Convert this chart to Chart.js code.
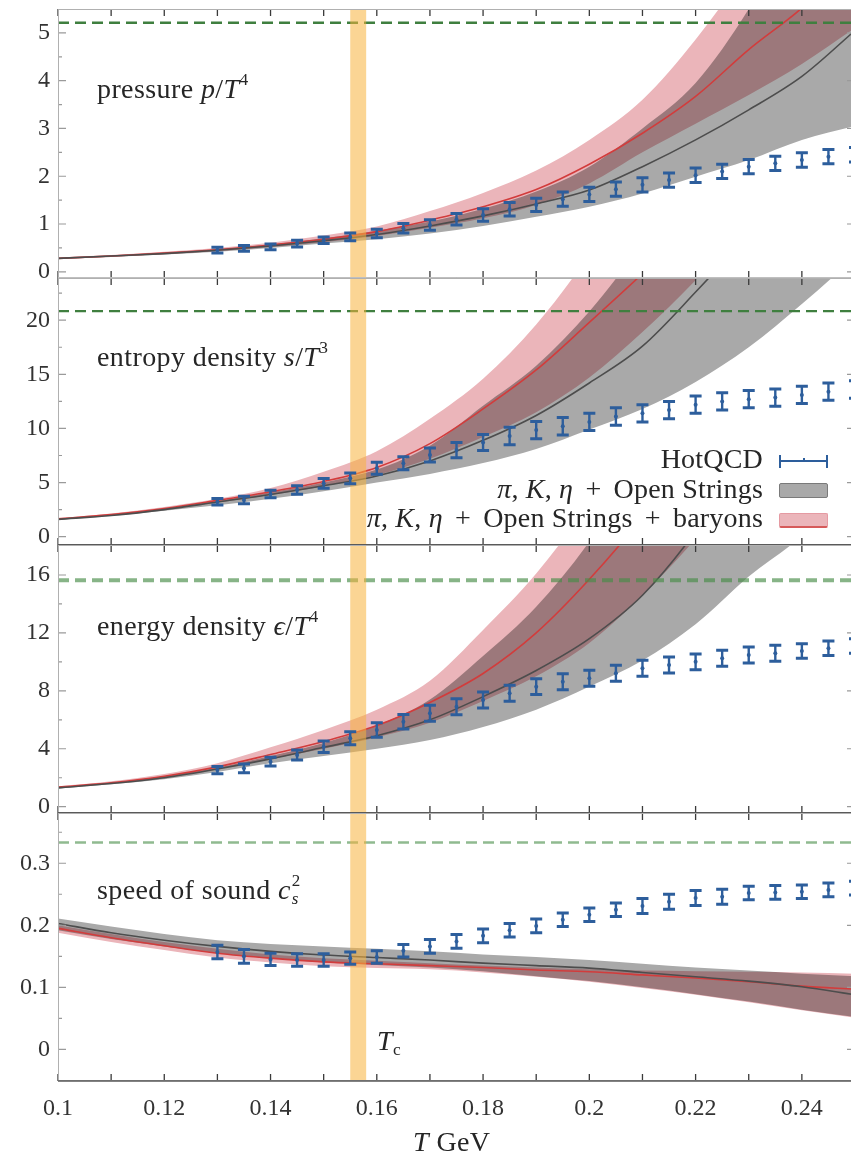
<!DOCTYPE html>
<html>
<head>
<meta charset="utf-8">
<script src="https://cdn.jsdelivr.net/npm/chart.js@4.4.0/dist/chart.umd.min.js"></script>
<style>
  html, body { margin: 0; padding: 0; background: #fff; }
  body { position: relative; width: 851px; height: 1151px; overflow: hidden;
         font-family: 'Liberation Serif', 'DejaVu Serif', serif; color: #262626; }
  canvas { position: absolute; left: 0; }
  .lbl { position: absolute; font-size: 28px; line-height: 1; white-space: nowrap; letter-spacing: 0.4px; }
  .lbl sup { font-size: 0.62em; vertical-align: 0.75em; line-height: 0; }
  .lbl sub { font-size: 0.62em; vertical-align: -0.3em; line-height: 0; }
  .leg { position: absolute; right: 88px; font-size: 28px; line-height: 1; white-space: nowrap; text-align: right; letter-spacing: 0.2px; }
  .leg .op { margin: 0 5px; }
  .sym { position: absolute; left: 779px; width: 49px; box-sizing: border-box; }
</style>
</head>
<body>
<canvas id="pressure" width="860" height="294" style="top:0px"></canvas>
<canvas id="entropy" width="860" height="283" style="top:278px"></canvas>
<canvas id="energy" width="860" height="284" style="top:545px"></canvas>
<canvas id="sound" width="860" height="338" style="top:813px"></canvas>

<div class="lbl" style="left:97px;top:75px">pressure <i>p</i>/<i>T</i><sup>4</sup></div>
<div class="lbl" style="left:97px;top:343px">entropy density <i>s</i>/<i>T</i><sup>3</sup></div>
<div class="lbl" style="left:97px;top:612px">energy density <i>ϵ</i>/<i>T</i><sup>4</sup></div>
<div class="lbl" style="left:97px;top:876px">speed of sound <i>c</i><span style="display:inline-block;position:relative;width:0.45em;height:0"><span style="position:absolute;left:1px;top:-27px;font-size:17px">2</span><span style="position:absolute;left:1px;top:-9px;font-size:17px;font-style:italic">s</span></span></div>

<div class="leg" style="top:445px">HotQCD</div>
<div class="leg" style="top:475px"><i>π</i>, <i>K</i>, <i>η</i> <span class="op">+</span> Open Strings</div>
<div class="leg" style="top:504px"><i>π</i>, <i>K</i>, <i>η</i> <span class="op">+</span> Open Strings <span class="op">+</span> baryons</div>
<div class="sym" style="top:455px;height:13px;border-left:2px solid #2d5e9c;border-right:2px solid #2d5e9c">
  <div style="position:absolute;left:0;right:0;top:5px;height:2px;background:#2d5e9c"></div>
  <div style="position:absolute;left:22px;top:3px;width:2px;height:3px;background:#2d5e9c"></div>
</div>
<div class="sym" style="top:483px;height:15px;background:#a9a9a9;border:1px solid #7a7a7a;border-radius:2px"></div>
<div class="sym" style="top:513px;height:15px;background:#ebb5ba;border:1px solid #e59aa2;border-bottom:2px solid #d65a5a;border-radius:2px"></div>

<div class="lbl" style="left:377px;top:1027px"><i>T</i><sub>c</sub></div>
<div class="lbl" style="left:413px;top:1128px"><i>T</i> GeV</div>

<script>
// temperature grid of the model curves (GeV)
const T = [0.10, 0.11, 0.12, 0.13, 0.14, 0.15, 0.16, 0.17, 0.18, 0.19, 0.20, 0.21, 0.22, 0.23, 0.24, 0.25];
// lattice temperatures
const HQ_T = [0.130, 0.135, 0.140, 0.145, 0.150, 0.155, 0.160, 0.165, 0.170, 0.175, 0.180, 0.185, 0.190,
              0.195, 0.200, 0.205, 0.210, 0.215, 0.220, 0.225, 0.230, 0.235, 0.240, 0.245, 0.250];
const TC_BAND = [0.155, 0.158];
const X_TICKS = [0.10, 0.12, 0.14, 0.16, 0.18, 0.20, 0.22, 0.24];
const X_MARKS = T;

// pressure p/T^4
const P_STR    = [0.28, 0.33, 0.38, 0.45, 0.54, 0.65, 0.78, 0.96, 1.17, 1.42, 1.71, 2.20, 2.76, 3.39, 4.09, 5.05];
const P_STR_HI = [0.29, 0.34, 0.40, 0.47, 0.57, 0.70, 0.86, 1.05, 1.32, 1.68, 2.20, 3.00, 3.95, 5.50, 7.50, 9.50];
const P_STR_LO = [0.27, 0.31, 0.36, 0.42, 0.50, 0.59, 0.68, 0.80, 0.96, 1.15, 1.36, 1.64, 1.99, 2.34, 2.76, 3.05];
const P_BAR    = [0.28, 0.33, 0.39, 0.46, 0.56, 0.68, 0.84, 1.08, 1.36, 1.72, 2.25, 2.90, 3.67, 4.65, 5.52, 6.60];
const P_BAR_HI = [0.30, 0.35, 0.42, 0.50, 0.61, 0.76, 0.95, 1.27, 1.65, 2.12, 2.76, 3.60, 4.86, 6.40, 8.20, 10.2];
const P_BAR_LO = [0.27, 0.31, 0.37, 0.43, 0.52, 0.62, 0.75, 0.92, 1.12, 1.40, 1.85, 2.50, 3.10, 3.70, 4.35, 5.10];
const P_HQ     = [0.455, 0.49, 0.52, 0.59, 0.66, 0.73, 0.80, 0.91, 0.98, 1.10, 1.19, 1.31, 1.40,
                  1.52, 1.62, 1.73, 1.82, 1.92, 2.02, 2.10, 2.20, 2.27, 2.34, 2.41, 2.45];
const P_HQ_ERR = [0.06, 0.06, 0.06, 0.07, 0.07, 0.08, 0.09, 0.10, 0.11, 0.12, 0.13, 0.14, 0.14,
                  0.15, 0.15, 0.15, 0.15, 0.15, 0.15, 0.15, 0.15, 0.15, 0.15, 0.15, 0.15];
const P_SB = 5.21;
const P_TICKS = [0, 1, 2, 3, 4, 5];
const P_MINOR = [0.5, 1.5, 2.5, 3.5, 4.5];

// entropy density s/T^3
const S_STR    = [1.60, 1.95, 2.50, 3.20, 3.90, 4.70, 5.60, 7.00, 8.90, 11.2, 14.2, 17.6, 22.6, 28.0, 34.0, 40.0];
const S_STR_HI = [1.65, 2.00, 2.60, 3.30, 4.10, 5.00, 6.20, 8.40, 12.1, 15.8, 20.8, 27.0, 33.0, 40.0, 47.0, 55.0];
const S_STR_LO = [1.55, 1.90, 2.40, 2.90, 3.50, 4.20, 5.00, 5.80, 6.80, 8.10, 9.90, 11.8, 14.3, 17.5, 21.5, 25.8];
const S_BAR    = [1.65, 2.05, 2.60, 3.35, 4.15, 5.10, 6.40, 8.60, 11.8, 15.4, 19.8, 24.3, 29.0, 34.0, 40.0, 46.0];
const S_BAR_HI = [1.70, 2.15, 2.75, 3.50, 4.50, 6.00, 7.90, 10.9, 14.6, 19.6, 26.0, 33.0, 41.0, 48.0, 56.0, 64.0];
const S_BAR_LO = [1.60, 1.95, 2.50, 3.15, 3.85, 4.65, 5.70, 7.20, 9.20, 11.5, 14.7, 18.9, 23.7, 29.0, 34.0, 40.0];
const S_HQ     = [3.23, 3.39, 3.94, 4.31, 4.93, 5.39, 6.32, 6.78, 7.54, 8.00, 8.70, 9.30, 9.85,
                  10.2, 10.6, 11.1, 11.4, 11.7, 12.2, 12.5, 12.7, 12.85, 13.1, 13.4, 13.6];
const S_HQ_ERR = [0.30, 0.35, 0.35, 0.40, 0.45, 0.50, 0.55, 0.60, 0.65, 0.70, 0.75, 0.80, 0.80,
                  0.80, 0.80, 0.80, 0.80, 0.80, 0.80, 0.80, 0.80, 0.80, 0.80, 0.80, 0.80];
const S_SB = 20.84;
const S_TICKS = [0, 5, 10, 15, 20];
const S_MINOR = [2.5, 7.5, 12.5, 17.5, 22.5];

// energy density eps/T^4
const E_STR    = [1.30, 1.60, 2.00, 2.60, 3.30, 4.10, 4.90, 6.00, 7.60, 9.40, 11.6, 14.6, 19.0, 24.5, 30.0, 36.0];
const E_STR_HI = [1.35, 1.65, 2.10, 2.70, 3.50, 4.40, 5.60, 7.40, 10.4, 13.8, 18.3, 24.0, 30.0, 36.0, 43.0, 50.0];
const E_STR_LO = [1.25, 1.55, 1.90, 2.40, 3.00, 3.50, 4.00, 4.60, 5.50, 6.70, 8.30, 10.1, 12.6, 15.9, 18.7, 22.5];
const E_BAR    = [1.35, 1.65, 2.10, 2.75, 3.60, 4.50, 5.60, 7.20, 9.20, 12.0, 15.7, 20.0, 25.0, 30.0, 36.0, 42.0];
const E_BAR_HI = [1.40, 1.75, 2.25, 3.00, 4.10, 5.30, 6.70, 8.70, 12.2, 16.1, 21.0, 27.0, 33.0, 40.0, 47.0, 55.0];
const E_BAR_LO = [1.30, 1.60, 2.00, 2.60, 3.30, 4.00, 4.80, 5.80, 7.30, 9.00, 11.3, 14.6, 18.5, 23.0, 28.0, 33.0];
const E_HQ     = [2.53, 2.65, 3.11, 3.57, 4.14, 4.72, 5.30, 5.87, 6.45, 6.90, 7.37, 7.83, 8.29,
                  8.63, 8.87, 9.21, 9.56, 9.79, 10.0, 10.25, 10.48, 10.6, 10.75, 10.94, 11.1];
const E_HQ_ERR = [0.25, 0.30, 0.30, 0.35, 0.40, 0.45, 0.50, 0.50, 0.55, 0.55, 0.55, 0.55, 0.55,
                  0.55, 0.55, 0.55, 0.55, 0.55, 0.55, 0.55, 0.55, 0.55, 0.50, 0.50, 0.50];
const E_SB = 15.63;
const E_TICKS = [0, 4, 8, 12, 16];
const E_MINOR = [2, 6, 10, 14];

// speed of sound c_s^2
const C_STR    = [0.203, 0.188, 0.176, 0.166, 0.158, 0.152, 0.148, 0.144, 0.139, 0.135, 0.131, 0.124, 0.117, 0.110, 0.101, 0.088];
const C_STR_HI = [0.211, 0.198, 0.186, 0.176, 0.170, 0.166, 0.162, 0.158, 0.153, 0.149, 0.144, 0.138, 0.132, 0.127, 0.122, 0.118];
const C_STR_LO = [0.192, 0.178, 0.166, 0.155, 0.147, 0.140, 0.136, 0.132, 0.126, 0.118, 0.110, 0.100, 0.089, 0.077, 0.064, 0.052];
const C_BAR    = [0.195, 0.180, 0.167, 0.155, 0.147, 0.141, 0.138, 0.135, 0.132, 0.128, 0.125, 0.120, 0.115, 0.109, 0.102, 0.097];
const C_BAR_HI = [0.200, 0.186, 0.173, 0.162, 0.153, 0.147, 0.143, 0.139, 0.135, 0.132, 0.129, 0.127, 0.126, 0.125, 0.124, 0.122];
const C_BAR_LO = [0.188, 0.173, 0.160, 0.148, 0.140, 0.134, 0.131, 0.129, 0.124, 0.117, 0.109, 0.099, 0.088, 0.076, 0.063, 0.051];
const C_HQ     = [0.157, 0.150, 0.145, 0.144, 0.144, 0.147, 0.149, 0.159, 0.166, 0.174, 0.183, 0.192, 0.199,
                  0.209, 0.217, 0.225, 0.231, 0.238, 0.244, 0.246, 0.252, 0.253, 0.254, 0.257, 0.260];
const C_HQ_ERR = [0.011, 0.011, 0.010, 0.010, 0.010, 0.010, 0.010, 0.010, 0.011, 0.011, 0.011, 0.011, 0.011,
                  0.011, 0.011, 0.011, 0.012, 0.012, 0.012, 0.012, 0.011, 0.011, 0.011, 0.011, 0.011];
const C_SB = 1 / 3;
const C_TICKS = [0, 0.1, 0.2, 0.3];
const C_MINOR = [0.05, 0.15, 0.25, 0.35];

const STR_FILL = '#a9a9a9';
const STR_LINE = '#4d4d4d';
const BAR_FILL = '#ebb5ba';
const BAR_LINE = '#d23c3c';
const HQ_COLOR = '#2d5e9c';
const TICK_FONT = { family: 'Liberation Serif', size: 24 };

function pts(xs, ys) {
  return xs.map((x, i) => ({ x: x, y: ys[i] }));
}

function band(hi, lo, mid, fillColor, lineColor) {
  return [
    { data: pts(T, hi), fill: '+1', backgroundColor: fillColor, borderWidth: 0, borderColor: 'transparent',
      pointRadius: 0, order: 5, blend: 'multiply', cubicInterpolationMode: 'monotone' },
    { data: pts(T, lo), fill: false, borderWidth: 0, borderColor: 'transparent',
      pointRadius: 0, order: 5, cubicInterpolationMode: 'monotone' },
    { data: pts(T, mid), fill: false, borderColor: lineColor, borderWidth: 1.6,
      pointRadius: 0, order: 2, cubicInterpolationMode: 'monotone' }
  ];
}

// bands multiply where they overlap; Tc band, error bars, frame and inward ticks on top
const decor = {
  id: 'decor',
  beforeDatasetsDraw(chart) {
    chart.ctx.save();
    chart.ctx.globalCompositeOperation = 'multiply';
  },
  beforeDatasetDraw(chart, args) {
    if (chart.data.datasets[args.index].blend !== 'multiply') chart.ctx.globalCompositeOperation = 'source-over';
  },
  afterDatasetDraw(chart) {
    chart.ctx.globalCompositeOperation = 'multiply';
  },
  afterDatasetsDraw(chart) {
    const ctx = chart.ctx, a = chart.chartArea;
    const xs = chart.scales.x, ys = chart.scales.y;
    ctx.restore();
    ctx.save();
    ctx.beginPath();
    ctx.rect(a.left, a.top, a.right - a.left, a.bottom - a.top);
    ctx.clip();
    const x0 = xs.getPixelForValue(TC_BAND[0]), x1 = xs.getPixelForValue(TC_BAND[1]);
    ctx.fillStyle = 'rgba(247,178,60,0.55)';
    ctx.fillRect(x0, a.top, x1 - x0, a.bottom - a.top);

    chart.data.datasets.forEach((ds, i) => {
      if (!ds.err) return;
      const meta = chart.getDatasetMeta(i);
      ctx.strokeStyle = HQ_COLOR;
      ctx.fillStyle = HQ_COLOR;
      meta.data.forEach((pt, j) => {
        const v = ds.data[j].y, e = ds.err[j];
        const yt = ys.getPixelForValue(v + e), yb = ys.getPixelForValue(v - e);
        ctx.lineWidth = 2.4;
        ctx.beginPath();
        ctx.moveTo(pt.x, yt); ctx.lineTo(pt.x, yb);
        ctx.stroke();
        ctx.lineWidth = 3;
        ctx.beginPath();
        ctx.moveTo(pt.x - 6, yt); ctx.lineTo(pt.x + 6, yt);
        ctx.moveTo(pt.x - 6, yb); ctx.lineTo(pt.x + 6, yb);
        ctx.stroke();
        ctx.beginPath();
        ctx.arc(pt.x, pt.y, 2, 0, Math.PI * 2);
        ctx.fill();
      });
    });
    ctx.restore();
  },
  afterDraw(chart, args, o) {
    const ctx = chart.ctx, a = chart.chartArea;
    const xs = chart.scales.x, ys = chart.scales.y;
    ctx.save();
    ctx.strokeStyle = '#3a3a3a';
    ctx.lineWidth = 1.3;
    X_MARKS.forEach(v => {
      const x = xs.getPixelForValue(v);
      ctx.beginPath();
      ctx.moveTo(x, a.top); ctx.lineTo(x, a.top + 7);
      ctx.moveTo(x, a.bottom); ctx.lineTo(x, a.bottom - 7);
      ctx.stroke();
    });
    ctx.strokeStyle = '#9a9a9a';
    ctx.lineWidth = 1.2;
    const yMark = (v, len) => {
      const y = ys.getPixelForValue(v);
      ctx.beginPath();
      ctx.moveTo(a.left, y); ctx.lineTo(a.left + len, y);
      ctx.moveTo(a.right, y); ctx.lineTo(a.right - len, y);
      ctx.stroke();
    };
    o.major.forEach(v => yMark(v, 8));
    o.minor.forEach(v => yMark(v, 4));

    ctx.strokeStyle = '#b0b0b0';
    ctx.lineWidth = 1;
    ctx.strokeRect(a.left + 0.5, a.top + 0.5, a.right - a.left - 1, a.bottom - a.top - 1);
    ctx.strokeStyle = o.bottomColor;
    ctx.lineWidth = o.bottomWidth;
    ctx.beginPath();
    ctx.moveTo(a.left, a.bottom); ctx.lineTo(a.right, a.bottom);
    ctx.stroke();
    ctx.restore();
  }
};

function panel(id, p) {
  const datasets = [].concat(
    band(p.strHi, p.strLo, p.str, STR_FILL, STR_LINE),
    band(p.barHi, p.barLo, p.bar, BAR_FILL, BAR_LINE),
    [
      { data: [{ x: 0.1, y: p.sb }, { x: 0.25, y: p.sb }], fill: false, borderColor: p.sbColor,
        borderWidth: p.sbWidth, borderDash: [11, 6], pointRadius: 0, order: 1 },
      { data: pts(HQ_T, p.hq), err: p.hqErr, showLine: false, pointRadius: 0, order: 0 }
    ]
  );

  new Chart(document.getElementById(id), {
    type: 'line',
    data: { datasets: datasets },
    options: {
      responsive: false,
      animation: false,
      devicePixelRatio: 1,
      layout: { padding: { top: p.padTop, right: 5, bottom: p.padBottom, left: 0 } },
      plugins: {
        legend: { display: false },
        tooltip: { enabled: false },
        decor: { major: p.ticks, minor: p.minor, bottomColor: p.bottomColor, bottomWidth: p.bottomWidth }
      },
      scales: {
        x: {
          type: 'linear', min: 0.1, max: 0.25, display: p.showX,
          afterFit: s => { s.height = p.showX ? 70 : 0; s.paddingLeft = 0; s.paddingRight = 0; },
          afterBuildTicks: s => { s.ticks = X_TICKS.map(v => ({ value: v })); },
          grid: { display: false, drawTicks: false },
          border: { display: false },
          ticks: { padding: 13, color: '#333', font: TICK_FONT, maxRotation: 0, autoSkip: false,
                   callback: v => String(+v.toFixed(2)) }
        },
        y: {
          type: 'linear', min: p.yMin, max: p.yMax,
          afterFit: s => { s.width = 58; s.paddingTop = 0; s.paddingBottom = 0; },
          afterBuildTicks: s => { s.ticks = p.ticks.map(v => ({ value: v })); },
          grid: { display: false, drawTicks: false },
          border: { display: false },
          ticks: { padding: 8, color: '#333', font: TICK_FONT, callback: v => String(+v.toFixed(2)) }
        }
      }
    },
    plugins: [decor]
  });
}

panel('pressure', {
  str: P_STR, strHi: P_STR_HI, strLo: P_STR_LO, bar: P_BAR, barHi: P_BAR_HI, barLo: P_BAR_LO,
  hq: P_HQ, hqErr: P_HQ_ERR, sb: P_SB, sbColor: '#3f7f3f', sbWidth: 2.5,
  yMin: -0.13, yMax: 5.5, ticks: P_TICKS, minor: P_MINOR,
  padTop: 9, padBottom: 16, showX: false, bottomColor: '#cfcfcf', bottomWidth: 1
});
panel('entropy', {
  str: S_STR, strHi: S_STR_HI, strLo: S_STR_LO, bar: S_BAR, barHi: S_BAR_HI, barLo: S_BAR_LO,
  hq: S_HQ, hqErr: S_HQ_ERR, sb: S_SB, sbColor: '#3f7f3f', sbWidth: 2.2,
  yMin: -0.77, yMax: 23.9, ticks: S_TICKS, minor: S_MINOR,
  padTop: 0, padBottom: 16, showX: false, bottomColor: '#5a5a5a', bottomWidth: 2
});
panel('energy', {
  str: E_STR, strHi: E_STR_HI, strLo: E_STR_LO, bar: E_BAR, barHi: E_BAR_HI, barLo: E_BAR_LO,
  hq: E_HQ, hqErr: E_HQ_ERR, sb: E_SB, sbColor: 'rgba(70,140,70,0.65)', sbWidth: 4,
  yMin: -0.435, yMax: 18.07, ticks: E_TICKS, minor: E_MINOR,
  padTop: 0, padBottom: 16, showX: false, bottomColor: '#5a5a5a', bottomWidth: 2
});
panel('sound', {
  str: C_STR, strHi: C_STR_HI, strLo: C_STR_LO, bar: C_BAR, barHi: C_BAR_HI, barLo: C_BAR_LO,
  hq: C_HQ, hqErr: C_HQ_ERR, sb: C_SB, sbColor: 'rgba(70,140,70,0.6)', sbWidth: 2.5,
  yMin: -0.051, yMax: 0.381, ticks: C_TICKS, minor: C_MINOR,
  padTop: 0, padBottom: 0, showX: true, bottomColor: '#5a5a5a', bottomWidth: 1.5
});
</script>
</body>
</html>
